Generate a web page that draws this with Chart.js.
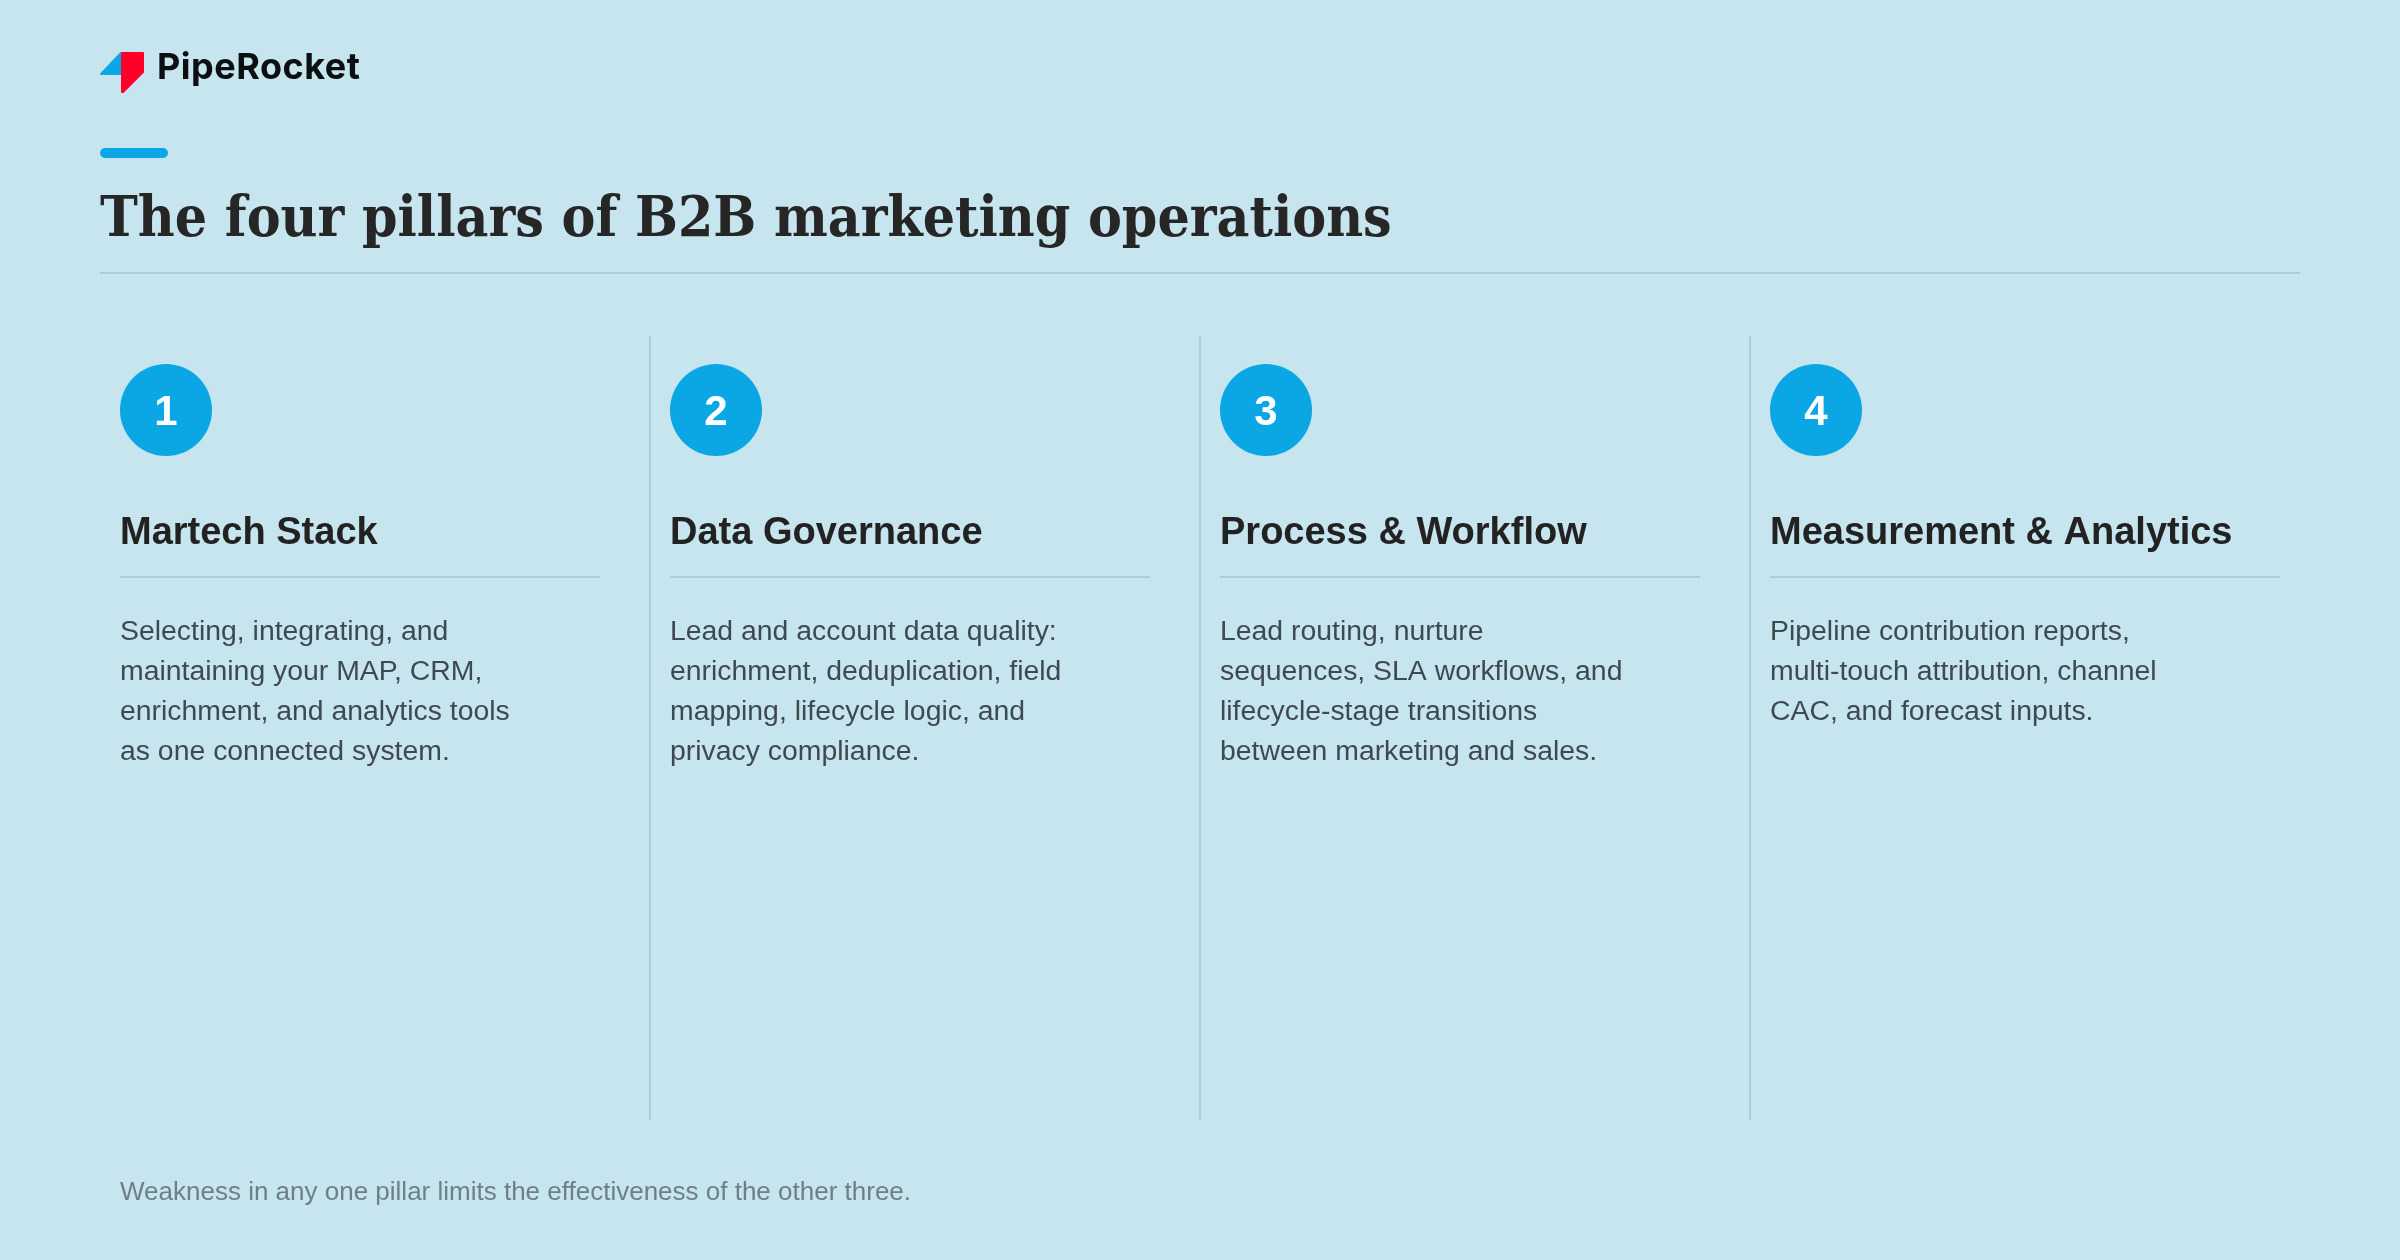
<!DOCTYPE html>
<html>
<head>
<meta charset="utf-8">
<title>The four pillars of B2B marketing operations</title>
<script src="https://cdn.jsdelivr.net/npm/chart.js@4/dist/chart.umd.min.js"></script>
<style>
  html, body { margin: 0; padding: 0; background: #c6e5ee; }
  canvas { display: block; }
</style>
</head>
<body>
<canvas id="myChart" width="2400" height="1260"></canvas>
<script>
// Content
var brandName = 'PipeRocket';
var chartTitle = 'The four pillars of B2B marketing operations';
var footNote = 'Weakness in any one pillar limits the effectiveness of the other three.';
var pillarNumbers = ['1', '2', '3', '4'];
var pillarTitles = ['Martech Stack', 'Data Governance', 'Process & Workflow', 'Measurement & Analytics'];
var pillarLines = [
    ['Selecting, integrating, and', 'maintaining your MAP, CRM,', 'enrichment, and analytics tools', 'as one connected system.'],
    ['Lead and account data quality:', 'enrichment, deduplication, field', 'mapping, lifecycle logic, and', 'privacy compliance.'],
    ['Lead routing, nurture', 'sequences, SLA workflows, and', 'lifecycle-stage transitions', 'between marketing and sales.'],
    ['Pipeline contribution reports,', 'multi-touch attribution, channel', 'CAC, and forecast inputs.']
];

// Layout: x is in columns (0 to 4), y is in page pixels
var INSET = 20 / 550;
var BUBBLE_X = 66 / 550;
var RULE_LEN = 480 / 550;
var LAST_RULE_LEN = 510 / 550;
var BLUE = '#0ba7e5';
var LINE = '#aecdd6';

function segment(x1, y1, x2, y2, width) {
    return {
        type: 'line',
        data: [{ x: x1, y: y1 }, { x: x2, y: y2 }],
        borderColor: LINE,
        borderWidth: width,
        pointRadius: 0,
        showLine: true
    };
}

var datasets = [];
// rule under the title
datasets.push(segment(0, 273, 4, 273, 2));
// dividers between columns, rules under the headings
pillarNumbers.forEach(function(n, i) {
    var len = i === pillarNumbers.length - 1 ? LAST_RULE_LEN : RULE_LEN;
    if (i > 0) datasets.push(segment(i, 336, i, 1120, 2));
    datasets.push(segment(i + INSET, 577, i + INSET + len, 577, 2));
});
// number bubbles
datasets.push({
    type: 'scatter',
    data: pillarNumbers.map(function(n, i) { return { x: i + BUBBLE_X, y: 410 }; }),
    backgroundColor: BLUE,
    borderWidth: 0,
    pointRadius: 46,
    pointHoverRadius: 46
});

function put(ctx, text, x, y, font, color, align, spacing) {
    ctx.font = font;
    ctx.fillStyle = color;
    ctx.textAlign = align || 'left';
    ctx.textBaseline = 'alphabetic';
    ctx.letterSpacing = spacing || '0px';
    ctx.fillText(text, x, y);
}

// filled shape with slightly rounded corners
function blob(ctx, color, pts) {
    ctx.fillStyle = color;
    ctx.strokeStyle = color;
    ctx.lineWidth = 2;
    ctx.lineJoin = 'round';
    ctx.beginPath();
    pts.forEach(function(p, i) {
        if (i === 0) ctx.moveTo(p[0], p[1]);
        else ctx.lineTo(p[0], p[1]);
    });
    ctx.closePath();
    ctx.fill();
    ctx.stroke();
}

// Logo, accent bar and all the text
var pagePlugin = {
    id: 'page',
    afterDatasetsDraw: function(chart) {
        var ctx = chart.ctx;
        var xs = chart.scales.x;
        var ys = chart.scales.y;
        ctx.save();

        blob(ctx, BLUE, [[101, 74], [121, 53], [121, 74]]);
        blob(ctx, '#ff0029', [[122, 53], [143, 53], [143, 72], [123, 92], [122, 92]]);
        put(ctx, brandName, 157, 79, '700 36px Inter', '#0c0f12', 'left', '0.5px');

        ctx.fillStyle = BLUE;
        ctx.beginPath();
        ctx.roundRect(100, 148, 68, 10, 5);
        ctx.fill();

        put(ctx, chartTitle, 100, 236, 'bold 56.5px "DejaVu Serif Condensed", "DejaVu Serif"', '#262626');

        pillarTitles.forEach(function(title, i) {
            var left = xs.getPixelForValue(i + INSET);
            put(ctx, pillarNumbers[i], xs.getPixelForValue(i + BUBBLE_X), ys.getPixelForValue(425), 'bold 42px "Liberation Sans"', '#ffffff', 'center');
            put(ctx, title, left, ys.getPixelForValue(544), 'bold 38px "Liberation Sans"', '#222222');
            pillarLines[i].forEach(function(line, k) {
                put(ctx, line, left, ys.getPixelForValue(640 + k * 40), '28.4px "Liberation Sans"', '#3f4a50');
            });
        });

        put(ctx, footNote, xs.getPixelForValue(INSET), ys.getPixelForValue(1200), '26px "Liberation Sans"', '#6f7f87');
        ctx.restore();
    }
};

var ctx = document.getElementById('myChart').getContext('2d');
var myChart = new Chart(ctx, {
    type: 'scatter',
    data: { datasets: datasets },
    plugins: [pagePlugin],
    options: {
        responsive: false,
        animation: false,
        layout: { autoPadding: false, padding: { left: 100, right: 100, top: 0, bottom: 0 } },
        plugins: { legend: { display: false }, tooltip: { enabled: false } },
        scales: {
            x: { type: 'linear', min: 0, max: 4, display: false },
            y: { type: 'linear', min: 0, max: 1260, reverse: true, display: false }
        }
    }
});
</script>
</body>
</html>
